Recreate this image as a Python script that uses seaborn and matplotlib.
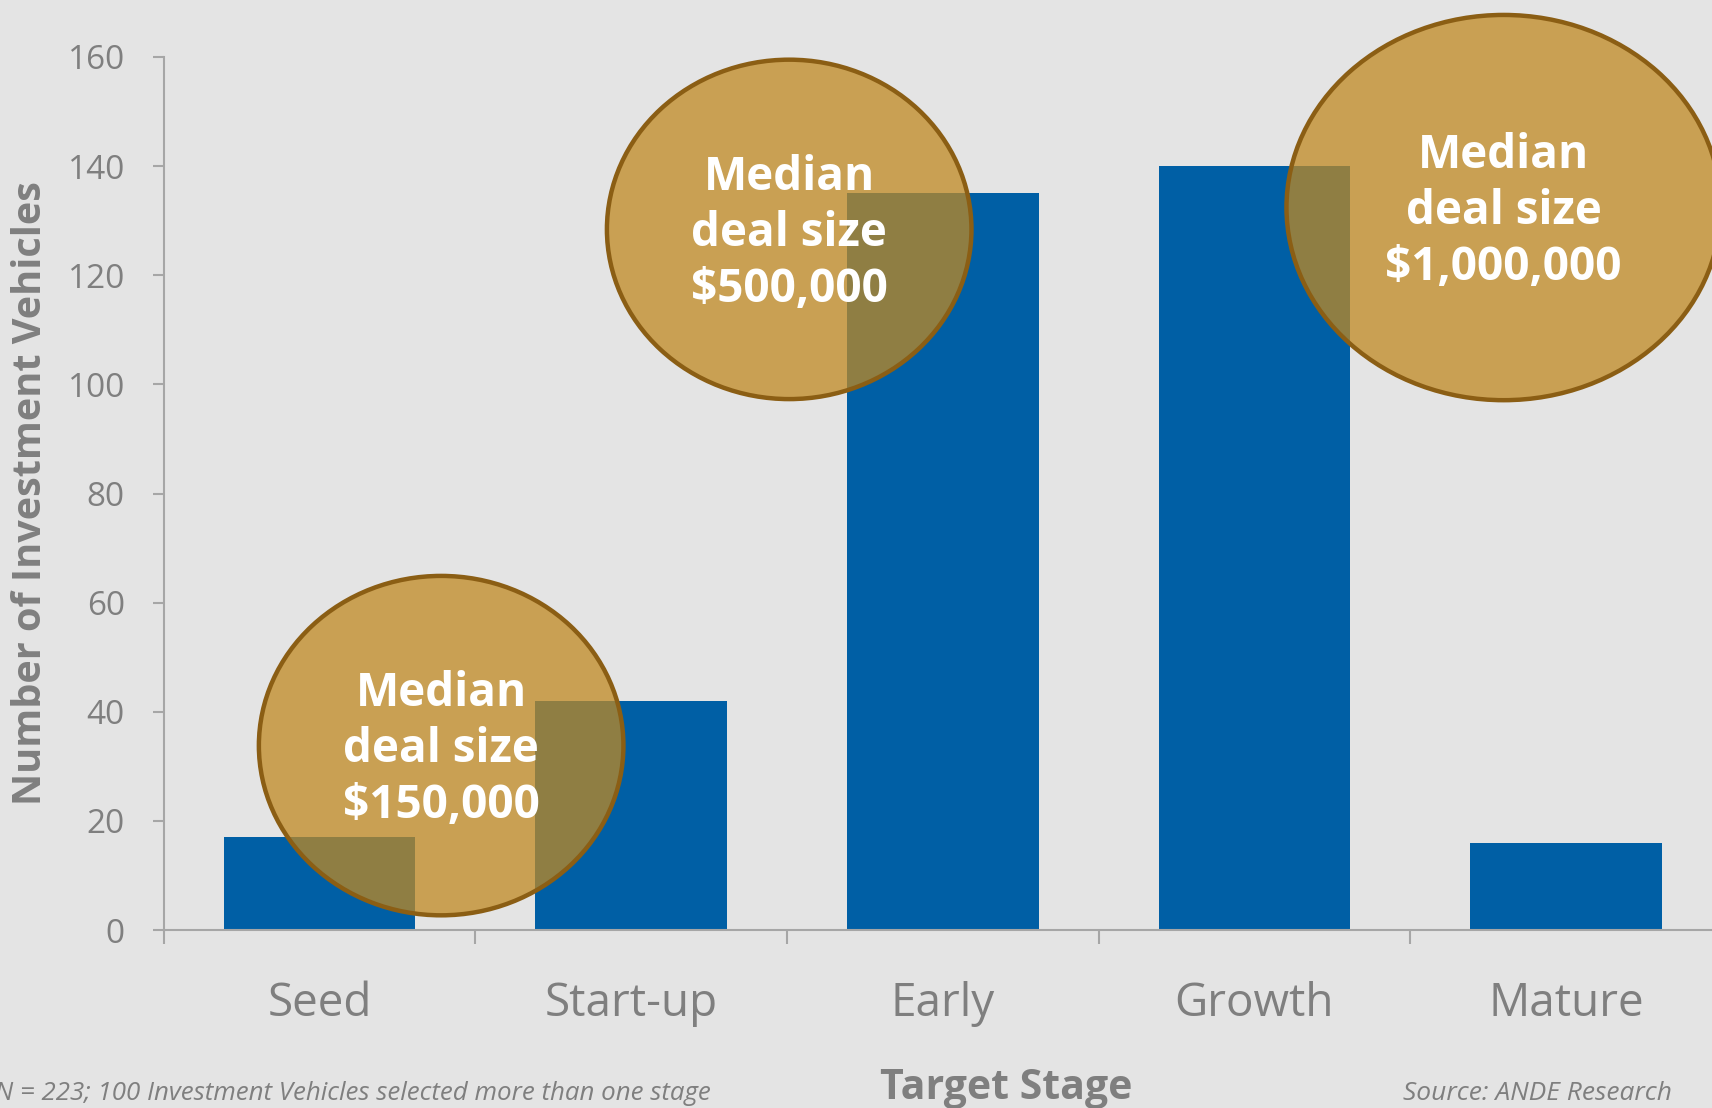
import matplotlib
matplotlib.use('Agg')
import matplotlib.pyplot as plt
from matplotlib.patches import Ellipse
import seaborn as sns
import pandas as pd

# Data
stages = ['Seed', 'Start-up', 'Early', 'Growth', 'Mature']
vehicles = [17, 42, 135, 140, 16]

# Median deal size bubbles
bubble_text = ['Median\ndeal size\n$150,000', 'Median\ndeal size\n$500,000', 'Median\ndeal size\n$1,000,000']
bubble_x = [0.39, 1.507, 3.80]
bubble_y = [33.8, 128.4, 132.4]
bubble_w = [1.17, 1.17, 1.394]
bubble_h = [62.2, 62.2, 70.6]

footnote = 'N = 223; 100 Investment Vehicles selected more than one stage'
source = 'Source: ANDE Research'

bg = '#E4E4E4'
grey = '#7F7F7F'
axis_grey = '#A6A6A6'

sns.set_theme(style='white')
plt.rcParams['font.family'] = ['Open Sans', 'DejaVu Sans']

df = pd.DataFrame({'stage': stages, 'count': vehicles})

fig = plt.figure(figsize=(17.12, 11.08), dpi=100, facecolor=bg)
ax = fig.add_axes([0.0957, 0.1606, 0.910, 0.788])
ax.set_facecolor(bg)

sns.barplot(data=df, x='stage', y='count', color='#005FA5', saturation=1,
            width=0.615, linewidth=0, ax=ax, zorder=2)

# bubbles on top of the bars
for txt, bx, by, bw, bh in zip(bubble_text, bubble_x, bubble_y, bubble_w, bubble_h):
    e = Ellipse((bx, by), bw, bh, facecolor=(0.753, 0.537, 0.133, 0.75),
                edgecolor='#8B5E14', linewidth=3.2, zorder=3, clip_on=False)
    ax.add_patch(e)
    ax.text(bx, by - 0.8, txt, ha='center', va='center', color='white',
            fontsize=33, fontweight='bold', linespacing=1.25, zorder=4)

ax.set_xlim(-0.5, 4.5)
ax.set_ylim(0, 160)
ax.set_yticks(range(0, 161, 20))
ax.tick_params(axis='y', labelsize=24, labelcolor=grey, color=axis_grey,
               length=8, width=1.5, pad=20, left=True)

# ticks at category boundaries, labels at centres
ax.set_xticks([-0.5, 0.5, 1.5, 2.5, 3.5, 4.5])
ax.set_xticklabels([])
ax.set_xticks(range(len(stages)), minor=True)
ax.set_xticklabels(stages, minor=True)
ax.tick_params(axis='x', which='major', color=axis_grey, length=10, width=1.5,
               bottom=True)
ax.tick_params(axis='x', which='minor', length=0, labelsize=33,
               labelcolor=grey, pad=37)

sns.despine(ax=ax)
for s in ['left', 'bottom']:
    ax.spines[s].set_color(axis_grey)
    ax.spines[s].set_linewidth(1.5)

ax.set_ylabel('Number of Investment Vehicles', fontsize=28.5, fontweight='bold',
              color=grey)
ax.yaxis.set_label_coords(-0.073, 0.5)
ax.set_xlabel('Target Stage', fontsize=29.5, fontweight='bold', color=grey)
ax.xaxis.set_label_coords(0.541, -0.158)

fig.text(711 / 1712, 1 - 1100 / 1108, footnote, ha='right', va='baseline',
         fontsize=18.6, style='italic', color=grey)
fig.text(1672 / 1712, 1 - 1100 / 1108, source, ha='right', va='baseline',
         fontsize=19, style='italic', color=grey)

fig.savefig('out.png', dpi=100, facecolor=bg)
